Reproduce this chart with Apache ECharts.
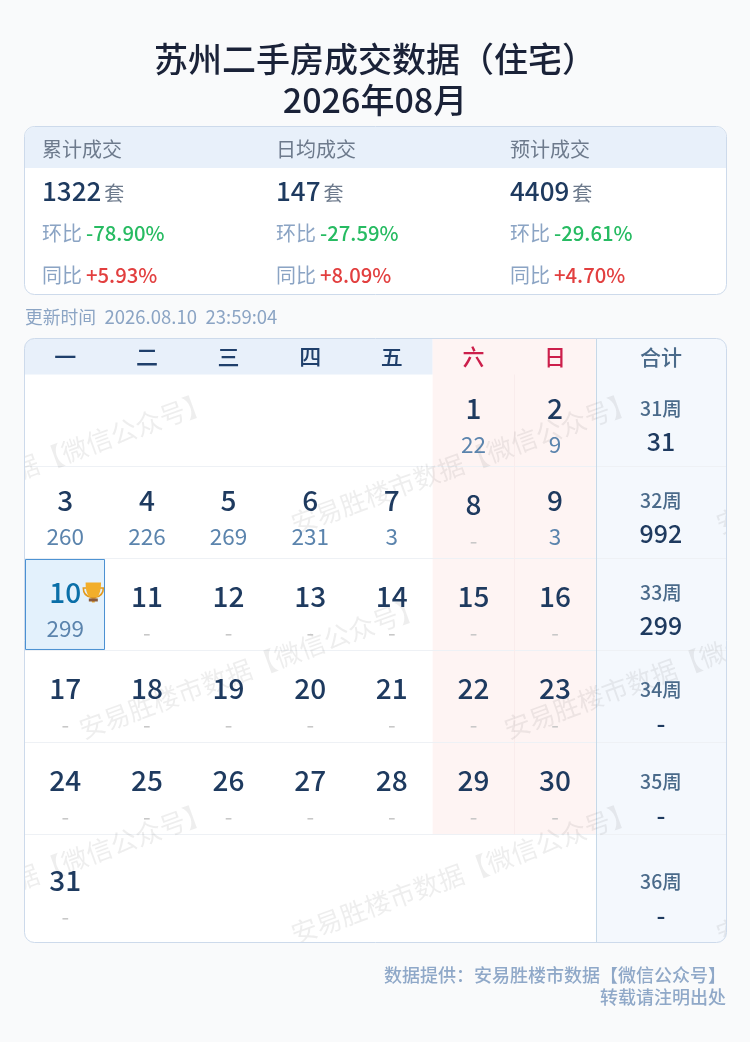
<!DOCTYPE html>
<html><head><meta charset="utf-8">
<style>html,body{margin:0;padding:0;background:#f9fafb}#c{width:750px;height:1042px}</style>
<script src="https://cdn.jsdelivr.net/npm/echarts@6/dist/echarts.min.js"></script>
</head><body><div id="c"></div>
<script>
const titleText = '苏州二手房成交数据（住宅）\n2026年08月';
const statNames = ['累计成交','日均成交','预计成交'];
const statValues = [1322,147,4409];
const statUnit = '套';
const momValues = ['-78.90%','-27.59%','-29.61%'];
const yoyValues = ['+5.93%','+8.09%','+4.70%'];
const updateLabel = '更新时间';
const updateDate = '2026.08.10';
const updateClock = '23:59:04';
const weekdays = ['一','二','三','四','五','六','日'];
const totalHeader = '合计';
const dayCounts = [22,9,260,226,269,231,3,null,3,299,null,null,null,null,null,null,null,null,null,null,null,null,null,null,null,null,null,null,null,null,null];
const weekLabels = ['31周','32周','33周','34周','35周','36周'];
const weekTotals = ['31','992','299','-','-','-'];
const firstDayCol = 5;
const bestDay = 10;
const watermarkText = '安易胜楼市数据【微信公众号】';
const footerLines = ['数据提供：安易胜楼市数据【微信公众号】','转载请注明出处'];

const FONT = '"Noto Sans CJK SC","Noto Sans",sans-serif';
const chart = echarts.init(document.getElementById('c'), null, {renderer:'canvas', width:750, height:1042});
const L=24.5,T=338.5,W=702,H=604;
const Y0=-0.391,Y1=6.174,XM=8.6;
const rowMid = r => r<5 ? r+0.5 : 5.587;
const totalCol = 7.797;
const mctx=document.createElement('canvas').getContext('2d');
const measure=(t,f)=>{mctx.font=f;return mctx.measureText(t).width;};

const dayData = dayCounts.map((c,i)=>{
  const p=i+firstDayCol;
  return [p%7+0.5, rowMid(Math.floor(p/7)), i+1, c];
});
const weekData = weekLabels.map((w,i)=>[totalCol,rowMid(i),w,weekTotals[i]]);
const headData = weekdays.map((w,i)=>[i+0.5,-0.195,w]).concat([[totalCol,-0.195,totalHeader]]);

function txt(x,y,text,size,color,weight){
  return {type:'text',x,y,style:{text:String(text),fontSize:size,fontFamily:FONT,fontWeight:weight||400,fill:color,align:'center',verticalAlign:'middle'}};
}
function trophy(x,y){
  return {type:'group',x,y,children:[
    {type:'path',shape:{pathData:'M5 3 H1.3 C1.3 7.5 3.5 10 7.5 10.8 M15 3 H18.7 C18.7 7.5 16.5 10 12.5 10.8',x:0,y:0,width:20,height:20},style:{fill:'none',stroke:'#e39a1e',lineWidth:1.6}},
    {type:'path',shape:{pathData:'M4.6 1 H15.4 C15.4 7.5 14 11 11 12.3 V15 H9 V12.3 C6 11 4.6 7.5 4.6 1 Z',x:0,y:0,width:20,height:20},style:{fill:'#f2ae2a'}},
    {type:'rect',shape:{x:7,y:14.6,width:6,height:1.4},style:{fill:'#d8952a'}},
    {type:'rect',shape:{x:5.5,y:16,width:9,height:3},style:{fill:'#8a5a3a'}}
  ]};
}

const option = {
  animation:false,
  backgroundColor:'#f9fafb',
  title:{text:titleText,left:370,top:34,textAlign:'center',textStyle:{fontFamily:FONT,fontSize:34,fontWeight:500,color:'#1a2238',lineHeight:41}},
  grid:{left:L,top:T,width:W,height:H,containLabel:false},
  xAxis:{type:'value',min:0,max:XM,show:false},
  yAxis:{type:'value',min:Y0,max:Y1,inverse:true,show:false},
  graphic:[
    {type:'rect',z:1,shape:{x:24.5,y:126.5,width:702,height:168,r:10},style:{fill:'#ffffff',stroke:'#cddaeb',lineWidth:1}},
    {type:'rect',z:2,shape:{x:25,y:127,width:701,height:41,r:[9.5,9.5,0,0]},style:{fill:'#e8f0fa'}},
    ...statNames.flatMap((n,i)=>{
      const x=[42,276,510][i];
      const f={fontFamily:FONT,verticalAlign:'middle'};
      const vw=measure(String(statValues[i]),'500 26px '+FONT);
      return [
        {type:'text',z:3,x,y:149,style:{...f,text:n,fontSize:20,fill:'#6d7a8c'}},
        {type:'text',z:3,x,y:191,style:{...f,text:String(statValues[i]),fontSize:26,fontWeight:500,fill:'#1e3a5f'}},
        {type:'text',z:3,x:x+vw+3,y:193,style:{...f,text:statUnit,fontSize:20,fill:'#6d7a8c'}},
        {type:'text',z:3,x,y:233,style:{...f,text:'环比',fontSize:20,fill:'#8ba4c4'}},
        {type:'text',z:3,x:x+44,y:233,style:{...f,text:momValues[i],fontSize:20.3,fontWeight:500,fill:'#27bb62'}},
        {type:'text',z:3,x,y:275,style:{...f,text:'同比',fontSize:20,fill:'#8ba4c4'}},
        {type:'text',z:3,x:x+44,y:275,style:{...f,text:yoyValues[i],fontSize:20.3,fontWeight:500,fill:'#e23f3f'}}
      ];
    }),
    {type:'text',z:3,x:25,y:317,style:{fontFamily:FONT,verticalAlign:'middle',text:updateLabel,fontSize:17.8,fill:'#8ba4c4'}},
    {type:'text',z:3,x:104.5,y:317,style:{fontFamily:FONT,verticalAlign:'middle',text:updateDate,fontSize:18.5,fill:'#8ba4c4'}},
    {type:'text',z:3,x:205.5,y:317,style:{fontFamily:FONT,verticalAlign:'middle',text:updateClock,fontSize:18.5,fill:'#8ba4c4'}},
    {type:'text',z:3,x:726,y:975,style:{fontFamily:FONT,align:'right',verticalAlign:'middle',text:footerLines[0],fontSize:18,fontWeight:500,fill:'#8fa8c8'}},
    {type:'text',z:3,x:726,y:997,style:{fontFamily:FONT,align:'right',verticalAlign:'middle',text:footerLines[1],fontSize:18,fontWeight:500,fill:'#8fa8c8'}},
    {type:'rect',z:30,silent:true,shape:{x:L,y:T,width:W,height:H,r:10},style:{fill:'none',stroke:'#cddaeb',lineWidth:1}}
  ],
  series:[
    {type:'custom',coordinateSystem:'cartesian2d',z:2,silent:true,data:[[0,0]],
     renderItem(p,api){
      const c=(x,y)=>api.coord([x,y]);
      const kids=[];
      const rect=(x0,y0,x1,y1,fill)=>{const a=c(x0,y0),b=c(x1,y1);kids.push({type:'rect',shape:{x:a[0],y:a[1],width:b[0]-a[0],height:b[1]-a[1]},style:{fill}});};
      rect(0,Y0,XM,Y1,'#ffffff');
      rect(0,Y0,5,0,'#e8f0fa');
      rect(5,Y0,7,5,'#fef4f3');
      rect(7,Y0,XM,Y1,'#f4f8fd');
      for(let r=1;r<=5;r++){const a=c(0,r),b=c(XM,r);kids.push({type:'rect',shape:{x:a[0],y:Math.floor(a[1]),width:b[0]-a[0],height:1},style:{fill:'#eef1f5'}});}
      {const a=c(6,0),b=c(6,5);kids.push({type:'rect',shape:{x:Math.floor(a[0]),y:a[1],width:1,height:b[1]-a[1]},style:{fill:'#f9ecec'}});}
      {const a=c(7,Y0),b=c(7,Y1);kids.push({type:'rect',shape:{x:Math.ceil(a[0]),y:a[1],width:1,height:b[1]-a[1]},style:{fill:'#c6d8e8'}});}
      const bi=bestDay-1+firstDayCol, hc=bi%7, hr=Math.floor(bi/7);
      const a=c(hc,hr),b=c(hc+1,hr+1);
      kids.push({type:'rect',shape:{x:a[0]+1,y:a[1]+1,width:b[0]-a[0]-2.6,height:b[1]-a[1]-2},style:{fill:'#e3f1fc',stroke:'#4a90d2',lineWidth:1}});
      return {type:'group',clipPath:{type:'rect',shape:{x:L,y:T,width:W,height:H,r:10}},children:kids};
     }},
    {type:'custom',coordinateSystem:'cartesian2d',z:3,silent:true,data:[[0,0]],
     renderItem(){
      const kids=[];
      const rot=20*Math.PI/180;
      for(let r=-1;r<=2;r++)for(let k=-1;k<=2;k++){
        const x=292+k*425+(r%2?-212:0), y=525+r*205;
        kids.push({type:'text',x,y,rotation:rot,style:{text:watermarkText,fontFamily:FONT,fontSize:26,fill:'rgba(60,60,60,0.085)',align:'left',verticalAlign:'middle'}});
      }
      return {type:'group',clipPath:{type:'rect',shape:{x:L,y:T,width:W,height:H,r:10}},children:kids};
     }},
    {type:'custom',coordinateSystem:'cartesian2d',z:4,silent:true,data:headData,encode:{x:0,y:1},
     renderItem(p,api){
      const i=p.dataIndex,c=api.coord([api.value(0),api.value(1)]);
      const d=headData[i];
      const color=i===7?'#4a6a8a':i>=5?'#cc1f4b':'#1f3f6b';
      return txt(c[0],c[1],d[2],i===7?21:22,color,500);
     }},
    {type:'custom',coordinateSystem:'cartesian2d',z:5,silent:true,data:dayData,encode:{x:0,y:1},
     renderItem(p,api){
      const d=dayData[p.dataIndex];
      const c=api.coord([d[0],d[1]]);
      const has=d[3]!=null;
      const best=d[2]===bestDay;
      const kids=[
        txt(c[0],c[1]+(has?-12.5:-8.5),d[2],28,best?'#0a6fa8':'#1e3a5f',500),
        has?txt(c[0],c[1]+23.5,d[3],22.5,'#5b84ad',400):txt(c[0],c[1]+28,'-',22,'#c8c8c8',400)
      ];
      if(best)kids.push(trophy(c[0]+18,c[1]-22));
      return {type:'group',children:kids};
     }},
    {type:'custom',coordinateSystem:'cartesian2d',z:5,silent:true,data:weekData,encode:{x:0,y:1},
     renderItem(p,api){
      const d=weekData[p.dataIndex];
      const c=api.coord([d[0],d[1]]);
      const empty=d[3]==='-';
      return {type:'group',children:[
        txt(c[0],c[1]+(empty?-6.5:-11.5),d[2],19.5,'#4a6a8a',500),
        txt(c[0],c[1]+(empty?27.5:21.5),d[3],25,'#1e3a5f',500)
      ]};
     }}
  ]
};
chart.setOption(option);
</script></body></html>
